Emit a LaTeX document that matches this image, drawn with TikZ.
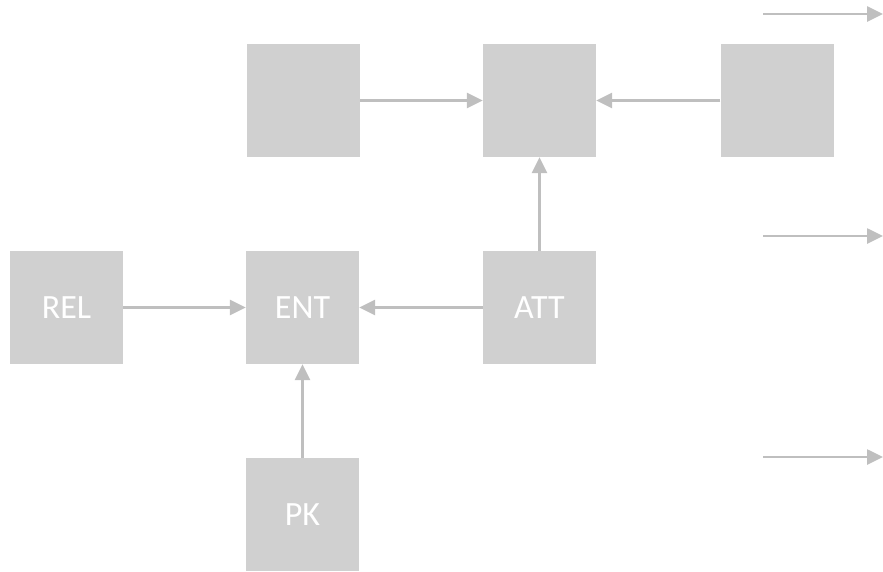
\documentclass[tikz,border=0pt]{standalone}
\usepackage{fontspec}
\setmainfont{Carlito}
\usetikzlibrary{arrows.meta}
\definecolor{boxgray}{HTML}{D0D0D0}
\definecolor{arrgray}{HTML}{BFBFBF}
\tikzset{
  box/.style={fill=boxgray, draw=none, minimum width=113pt, minimum height=113pt, inner sep=0pt, text=white, font=\fontsize{34}{40}\selectfont},
  conn/.style={draw=arrgray, line width=2.6pt, -{Triangle[length=16pt,width=15pt]}}
}
\begin{document}
\begin{tikzpicture}[x=1pt,y=-1pt]
\useasboundingbox (0,0) rectangle (883,571);
\node[box] (tl) at (303.5,100.5) {};
\node[box] (tm) at (539.5,100.5) {};
\node[box] (tr) at (777,100.5) {};
\node[box] (rel) at (66.5,307.5) {REL};
\node[box] (ent) at (302.5,307.5) {ENT};
\node[box] (att) at (539.5,307.5) {ATT};
\node[box] (pk) at (302.5,514.5) {PK};
\draw[conn] (tl) -- (tm);
\draw[conn] (tr) -- (tm);
\draw[conn] (att) -- (tm);
\draw[conn] (rel) -- (ent);
\draw[conn] (att) -- (ent);
\draw[conn] (pk) -- (ent);
\coordinate (o1s) at (763,14);
\coordinate (o1e) at (883,14);
\coordinate (o2s) at (763,236);
\coordinate (o2e) at (883,236);
\coordinate (o3s) at (763,457);
\coordinate (o3e) at (883,457);
\draw[conn] (o1s) -- (o1e);
\draw[conn] (o2s) -- (o2e);
\draw[conn] (o3s) -- (o3e);
\end{tikzpicture}
\end{document}
